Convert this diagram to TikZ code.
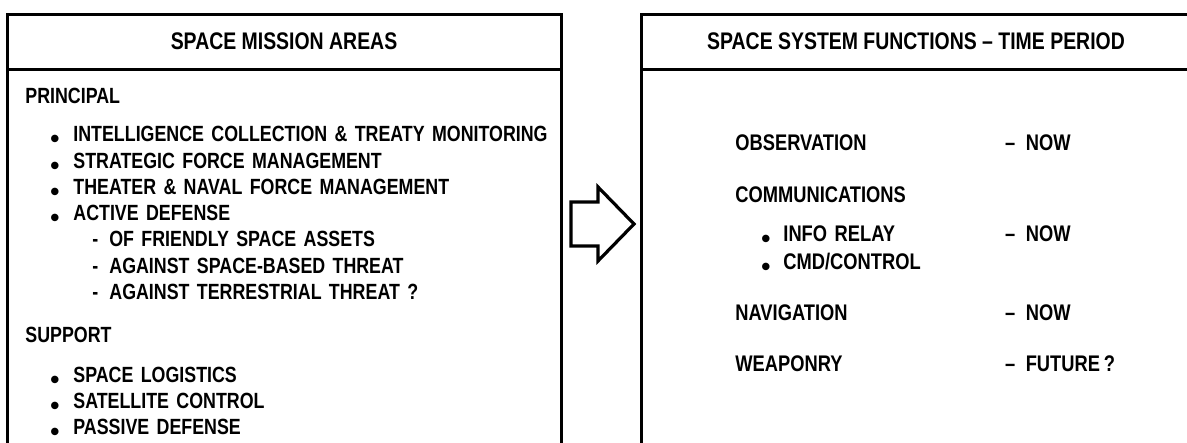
\documentclass[tikz,border=0pt]{standalone}
\usepackage{fontspec}
\setmainfont{Liberation Sans}[FakeStretch=0.81]
\newfontfamily\dotfont{Liberation Sans}
\usetikzlibrary{chains,positioning}
\newcommand\dotb{\raisebox{-3pt}{\dotfont\fontsize{13}{13}\selectfont\textbullet}}
\newcommand\blt{\makebox[11.5pt][l]{\dotb}}
\newcommand\rblt{\makebox[11pt][l]{\dotb}}
\newcommand\dsh{\makebox[8.5pt][l]{-}}

\begin{document}
\begin{tikzpicture}[x=0.5pt, y=-0.5pt,
	node distance = 2.25pt,
	 frame/.style = {line width=1.5pt, line join=miter},
		 hdr/.style = {inner sep=0pt, font=\fontsize{12}{14}\selectfont\bfseries},
		base/.style = {inner sep=0pt, text height=8.5pt, text depth=2pt, align=left,
									 font=\fontsize{11.3}{13}\selectfont\bfseries},
		 lft/.style = {base, font=\fontsize{11}{13}\selectfont\bfseries,
									 text width=300pt, on chain=L},
		 rgt/.style = {base, text width=134.5pt, on chain=R},
		 per/.style = {base, text width=60pt, right=0pt of #1}]
\useasboundingbox (0,0) rectangle (1187,443);

% boxes
\draw[frame] (7,443) |- (561,15) -- (561,443);
\draw[frame] (7,70) -- (561,70);
\draw[frame] (641,443) |- (1195,15);
\draw[frame] (641,70) -- (1195,70);
\node[hdr] (mis) at (284,41) {SPACE MISSION AREAS};
\node[hdr] (fun) at (916,41) {SPACE SYSTEM FUNCTIONS -- TIME PERIOD};

% left list
\begin{scope}[start chain = L going below]
\node[lft, anchor=base west] at (25,104) {PRINCIPAL};                 % <-- L-1
\node[lft, below=8pt of L-1] {\hspace*{12.5pt}\blt INTELLIGENCE COLLECTION \& TREATY MONITORING};
\node[lft] {\hspace*{12.5pt}\blt STRATEGIC FORCE MANAGEMENT};
\node[lft] {\hspace*{12.5pt}\blt THEATER \& NAVAL FORCE MANAGEMENT};
\node[lft] {\hspace*{12.5pt}\blt ACTIVE DEFENSE};
\node[lft] {\hspace*{33.5pt}\dsh OF FRIENDLY SPACE ASSETS};
\node[lft] {\hspace*{33.5pt}\dsh AGAINST SPACE-BASED THREAT};
\node[lft] {\hspace*{33.5pt}\dsh AGAINST TERRESTRIAL THREAT ?};        % <-- L-8
\node[lft, below=10.75pt of L-8] {SUPPORT};
\node[lft, below=8.75pt of L-9] {\hspace*{12.5pt}\blt SPACE LOGISTICS};
\node[lft] {\hspace*{12.5pt}\blt SATELLITE CONTROL};
\node[lft] {\hspace*{12.5pt}\blt PASSIVE DEFENSE};                    % <-- L-12
\end{scope}

% right list
\begin{scope}[start chain = R going below]
\node[rgt, anchor=base west] at (735,151) {OBSERVATION};              % <-- R-1
\node[rgt, below=15pt of R-1] {COMMUNICATIONS};
\node[rgt, below=8.5pt of R-2] {\hspace*{13pt}\rblt INFO RELAY};
\node[rgt, below=3pt of R-3] {\hspace*{13pt}\rblt CMD/CONTROL};
\node[rgt, below=14.5pt of R-4] {NAVIGATION};
\node[rgt, below=14.75pt of R-5] {WEAPONRY};                           % <-- R-6
\end{scope}
%%
\node[per=R-1] (now1) {--\hspace{5.2pt}NOW};
\node[per=R-3] (now2) {--\hspace{5.2pt}NOW};
\node[per=R-5] (now3) {--\hspace{5.2pt}NOW};
\node[per=R-6] (fut)  {--\hspace{5.2pt}FUTURE\,?};

% arrow
\draw[frame, line width=1.6pt]
	(571,202) -- (598,202) -- (598,187) -- (634,224)
	-- (598,261) -- (598,246) -- (571,246) -- cycle;
\end{tikzpicture}
\end{document}
